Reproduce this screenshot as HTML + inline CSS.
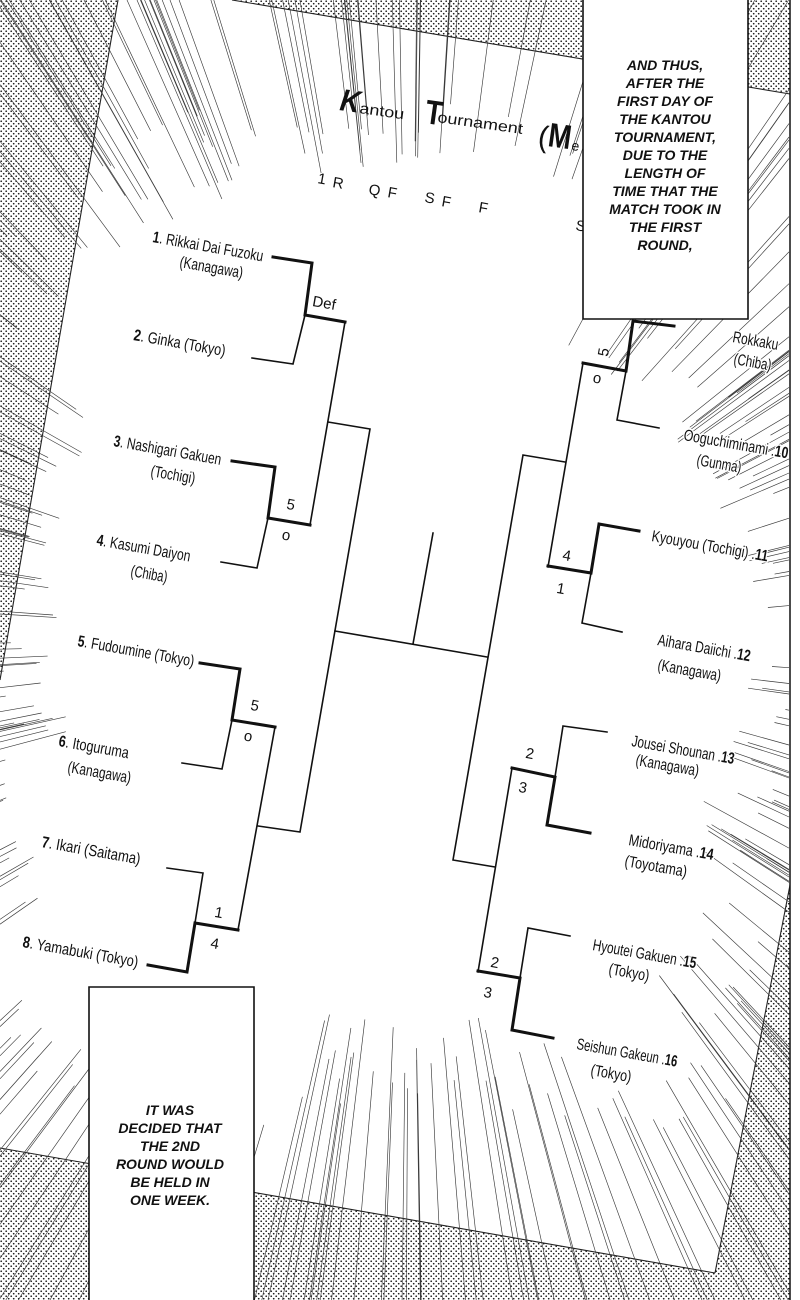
<!DOCTYPE html>
<html><head><meta charset="utf-8">
<style>
html,body{margin:0;padding:0;background:#fff;width:800px;height:1300px;overflow:hidden;}
svg{display:block;}
.lb{font-family:"Liberation Sans Narrow","Liberation Sans",sans-serif;font-size:16px;fill:#111;paint-order:stroke;stroke:#fff;stroke-width:3px;stroke-linejoin:round;}
.sc{font-family:"Liberation Sans",sans-serif;font-size:15px;fill:#111;text-anchor:middle;}
.hd{font-family:"Liberation Sans",sans-serif;font-size:15px;fill:#111;}
.cap{font-family:"Liberation Sans",sans-serif;font-size:14px;font-weight:bold;font-style:italic;fill:#111;text-anchor:middle;}
</style></head>
<body>
<svg width="800" height="1300" viewBox="0 0 800 1300" xmlns="http://www.w3.org/2000/svg" overflow="hidden">
<defs>
<pattern id="dots" width="5" height="5" patternUnits="userSpaceOnUse">
<circle cx="1.2" cy="1.2" r="0.85" fill="#1a1a1a"/><circle cx="3.7" cy="3.7" r="0.85" fill="#1a1a1a"/>
</pattern>
</defs>
<rect width="800" height="1300" fill="#fff"/>
<!-- screentone background -->
<polygon points="0,0 118,0 0,680" fill="url(#dots)"/>
<polygon points="232,0 800,0 800,95" fill="url(#dots)"/>
<polygon points="0,1148 715,1273 790,885 800,885 800,1300 0,1300" fill="url(#dots)"/>
<g stroke="#222" stroke-width="1.1" fill="none">
<line x1="118" y1="0" x2="0" y2="680"/>
<line x1="232" y1="0" x2="790" y2="94"/>
<line x1="0" y1="1148" x2="715" y2="1273"/>
<line x1="790" y1="885" x2="715" y2="1273"/>
</g>
<!-- speed lines -->
<path id="sl" d="" stroke="#3a3a3a" stroke-width="0.65" fill="none"/>

<!-- bracket -->
<g stroke="#111" fill="none" stroke-linejoin="miter" stroke-linecap="square">
<g stroke-width="1.6">
<polyline points="305,315 293,364 252,358"/>
<polyline points="345,322 310,525"/>
<polyline points="268,518 257,568 221,562"/>
<polyline points="328,422 370,429 300,832 258,826"/>
<polyline points="275,727 238,930"/>
<polyline points="232,720 222,769 182,763"/>
<polyline points="167,868 203,873 195,923"/>
<polyline points="335,631 487,657"/>
<polyline points="413,644 433,533"/>
<polyline points="626,371 617,420 659,428"/>
<polyline points="583,363 548,567"/>
<polyline points="565,462 523,455 453,860 495,867"/>
<polyline points="591,573 582,623 622,632"/>
<polyline points="512,768 478,972"/>
<polyline points="607,732 563,726 555,777"/>
<polyline points="570,936 528,928 520,978"/>
</g>
<g stroke-width="3">
<polyline points="273,257 312,263 305,315 345,322"/>
<polyline points="232,461 275,467 268,518 310,525"/>
<polyline points="200,663 240,669 232,720 275,727"/>
<polyline points="148,965 187,972 195,923 238,930"/>
<polyline points="674,326 633,321 626,371 583,363"/>
<polyline points="639,531 599,524 591,573 548,566"/>
<polyline points="512,768 555,777 547,825 590,833"/>
<polyline points="478,971 520,978 512,1030 553,1038"/>
</g>
</g>

<!-- title -->
<g font-family="'Liberation Sans',sans-serif" fill="#111">
<text transform="translate(339,110) rotate(8)" font-size="31" font-weight="bold" font-style="italic" textLength="20" lengthAdjust="spacingAndGlyphs">K</text>
<text transform="translate(359,113) rotate(8)" font-size="15" textLength="45" lengthAdjust="spacingAndGlyphs">antou</text>
<text transform="translate(424,123) rotate(8)" font-size="34" font-weight="bold" textLength="17" lengthAdjust="spacingAndGlyphs">T</text>
<text transform="translate(437,122) rotate(8)" font-size="15" textLength="86" lengthAdjust="spacingAndGlyphs">ournament</text>
<text transform="translate(537,146) rotate(8)" font-size="30">(</text>
<text transform="translate(547,146) rotate(8)" font-size="34" font-weight="bold" textLength="23" lengthAdjust="spacingAndGlyphs">M</text>
<text transform="translate(571,150) rotate(8)" font-size="14">e</text>
</g>
<!-- round header -->
<text class="hd" transform="translate(317,183) rotate(10)">1</text>
<text class="hd" transform="translate(332,187) rotate(10)">R</text>
<text class="hd" transform="translate(368,194) rotate(10)">Q</text>
<text class="hd" transform="translate(387,197) rotate(10)">F</text>
<text class="hd" transform="translate(424,202) rotate(10)">S</text>
<text class="hd" transform="translate(441,206) rotate(10)">F</text>
<text class="hd" transform="translate(478,212) rotate(10)">F</text>
<text class="hd" transform="translate(575,230) rotate(10)">S</text>

<!-- team labels -->
<text class="lb" transform="translate(152,242) rotate(10)" textLength="112" lengthAdjust="spacingAndGlyphs"><tspan font-weight="bold">1</tspan>. Rikkai Dai Fuzoku</text>
<text class="lb" transform="translate(179,267) rotate(10)" textLength="64" lengthAdjust="spacingAndGlyphs">(Kanagawa)</text>
<text class="lb" transform="translate(133,340) rotate(10)" textLength="93" lengthAdjust="spacingAndGlyphs"><tspan font-weight="bold">2</tspan>. Ginka (Tokyo)</text>
<text class="lb" transform="translate(113,446) rotate(10)" textLength="109" lengthAdjust="spacingAndGlyphs"><tspan font-weight="bold">3</tspan>. Nashigari Gakuen</text>
<text class="lb" transform="translate(150,476) rotate(10)" textLength="45" lengthAdjust="spacingAndGlyphs">(Tochigi)</text>
<text class="lb" transform="translate(96,545) rotate(10)" textLength="95" lengthAdjust="spacingAndGlyphs"><tspan font-weight="bold">4</tspan>. Kasumi Daiyon</text>
<text class="lb" transform="translate(130,576) rotate(10)" textLength="37" lengthAdjust="spacingAndGlyphs">(Chiba)</text>
<text class="lb" transform="translate(77,646) rotate(10)" textLength="118" lengthAdjust="spacingAndGlyphs"><tspan font-weight="bold">5</tspan>. Fudoumine (Tokyo)</text>
<text class="lb" transform="translate(58,746) rotate(10)" textLength="71" lengthAdjust="spacingAndGlyphs"><tspan font-weight="bold">6</tspan>. Itoguruma</text>
<text class="lb" transform="translate(67,772) rotate(10)" textLength="64" lengthAdjust="spacingAndGlyphs">(Kanagawa)</text>
<text class="lb" transform="translate(41,847) rotate(10)" textLength="100" lengthAdjust="spacingAndGlyphs"><tspan font-weight="bold">7</tspan>. Ikari (Saitama)</text>
<text class="lb" transform="translate(22,947) rotate(10)" textLength="117" lengthAdjust="spacingAndGlyphs"><tspan font-weight="bold">8</tspan>. Yamabuki (Tokyo)</text>

<text class="lb" transform="translate(732,342) rotate(10)" textLength="46" lengthAdjust="spacingAndGlyphs">Rokkaku</text>
<text class="lb" transform="translate(733,364) rotate(10)" textLength="38" lengthAdjust="spacingAndGlyphs">(Chiba)</text>
<text class="lb" transform="translate(683,440) rotate(10)" textLength="106" lengthAdjust="spacingAndGlyphs">Ooguchiminami .<tspan font-weight="bold">10</tspan></text>
<text class="lb" transform="translate(696,465) rotate(10)" textLength="45" lengthAdjust="spacingAndGlyphs">(Gunma)</text>
<text class="lb" transform="translate(651,541) rotate(10)" textLength="118" lengthAdjust="spacingAndGlyphs">Kyouyou (Tochigi) .<tspan font-weight="bold">11</tspan></text>
<text class="lb" transform="translate(657,645) rotate(10)" textLength="94" lengthAdjust="spacingAndGlyphs">Aihara Daiichi .<tspan font-weight="bold">12</tspan></text>
<text class="lb" transform="translate(657,670) rotate(10)" textLength="64" lengthAdjust="spacingAndGlyphs">(Kanagawa)</text>
<text class="lb" transform="translate(631,746) rotate(10)" textLength="104" lengthAdjust="spacingAndGlyphs">Jousei Shounan .<tspan font-weight="bold">13</tspan></text>
<text class="lb" transform="translate(635,765) rotate(10)" textLength="64" lengthAdjust="spacingAndGlyphs">(Kanagawa)</text>
<text class="lb" transform="translate(628,845) rotate(10)" textLength="86" lengthAdjust="spacingAndGlyphs">Midoriyama .<tspan font-weight="bold">14</tspan></text>
<text class="lb" transform="translate(624,866) rotate(10)" textLength="63" lengthAdjust="spacingAndGlyphs">(Toyotama)</text>
<text class="lb" transform="translate(592,950) rotate(10)" textLength="105" lengthAdjust="spacingAndGlyphs">Hyoutei Gakuen .<tspan font-weight="bold">15</tspan></text>
<text class="lb" transform="translate(608,974) rotate(10)" textLength="41" lengthAdjust="spacingAndGlyphs">(Tokyo)</text>
<text class="lb" transform="translate(576,1049) rotate(10)" textLength="102" lengthAdjust="spacingAndGlyphs">Seishun Gakeun .<tspan font-weight="bold">16</tspan></text>
<text class="lb" transform="translate(590,1075) rotate(10)" textLength="41" lengthAdjust="spacingAndGlyphs">(Tokyo)</text>

<!-- scores -->
<text class="sc" transform="translate(324,304) rotate(10)" y="4" font-size="12">Def</text>
<text class="sc" transform="translate(291,504) rotate(10)" y="5.5">5</text>
<text class="sc" transform="translate(286,536) rotate(10)" y="4" font-size="13">o</text>
<text class="sc" transform="translate(255,705) rotate(10)" y="5.5">5</text>
<text class="sc" transform="translate(248,737) rotate(10)" y="4" font-size="13">o</text>
<text class="sc" transform="translate(219,912) rotate(10)" y="5.5">1</text>
<text class="sc" transform="translate(215,943) rotate(10)" y="5.5">4</text>
<text class="sc" transform="translate(603,352) rotate(-80)" y="5.5">5</text>
<text class="sc" transform="translate(597,379) rotate(10)" y="4" font-size="13">o</text>
<text class="sc" transform="translate(567,555) rotate(10)" y="5.5">4</text>
<text class="sc" transform="translate(561,588) rotate(10)" y="5.5">1</text>
<text class="sc" transform="translate(530,753) rotate(10)" y="5.5">2</text>
<text class="sc" transform="translate(523,787) rotate(10)" y="5.5">3</text>
<text class="sc" transform="translate(495,962) rotate(10)" y="5.5">2</text>
<text class="sc" transform="translate(488,992) rotate(10)" y="5.5">3</text>

<!-- caption boxes -->
<rect x="583" y="0" width="165" height="319" fill="#fff"/>
<path d="M583,0 L583,319 L748,319 L748,0" fill="none" stroke="#111" stroke-width="1.6"/>
<g class="cap">
<text x="665" y="70">AND THUS,</text>
<text x="665" y="88">AFTER THE</text>
<text x="665" y="106">FIRST DAY OF</text>
<text x="665" y="124">THE KANTOU</text>
<text x="665" y="142">TOURNAMENT,</text>
<text x="665" y="160">DUE TO THE</text>
<text x="665" y="178">LENGTH OF</text>
<text x="665" y="196">TIME THAT THE</text>
<text x="665" y="214">MATCH TOOK IN</text>
<text x="665" y="232">THE FIRST</text>
<text x="665" y="250">ROUND,</text>
</g>
<rect x="89" y="987" width="165" height="313" fill="#fff"/>
<path d="M89,1300 L89,987 L254,987 L254,1300" fill="none" stroke="#111" stroke-width="1.6"/>
<g class="cap">
<text x="170" y="1115">IT WAS</text>
<text x="170" y="1133">DECIDED THAT</text>
<text x="170" y="1151">THE 2ND</text>
<text x="170" y="1169">ROUND WOULD</text>
<text x="170" y="1187">BE HELD IN</text>
<text x="170" y="1205">ONE WEEK.</text>
</g>

<!-- page frame right -->
<rect x="790.5" y="0" width="9.5" height="1300" fill="#fff"/>
<line x1="790" y1="0" x2="790" y2="1300" stroke="#111" stroke-width="1.5"/>
</svg>
<script>
(function(){
var s=12345;function r(){s=(s*16807)%2147483647;return s/2147483647;}
var cx=410,cy=640,d='';
var R=[
[-62,-35,26,330,420],
[-35,40,70,335,420],
[40,55,18,400,500],
[55,70,13,490,560],
[70,78,7,420,520],
[78,105,28,380,470],
[105,130,20,480,560],
[130,145,13,520,580],
[145,165,14,420,480],
[165,200,32,350,410],
[200,215,11,370,420],
[215,250,50,470,580],
[250,290,36,475,540],
[290,298,9,500,560]
];
function edge(c,sn){
var t=1e9;
if(c>1e-6)t=Math.min(t,(789-cx)/c);
if(c<-1e-6)t=Math.min(t,(0-cx)/c);
if(sn>1e-6)t=Math.min(t,(1300-cy)/sn);
if(sn<-1e-6)t=Math.min(t,(0-cy)/sn);
return t;
}
R.forEach(function(g){
for(var i=0;i<g[2];i++){
var a=(g[0]+(g[1]-g[0])*r())*Math.PI/180;
var r1=g[3]+(g[4]-g[3])*r();
var c=Math.cos(a),sn=Math.sin(a);
var r2=edge(c,sn);
if(r2<=r1+2)continue;
d+='M'+(cx+c*r1).toFixed(1)+' '+(cy+sn*r1).toFixed(1)+'L'+(cx+c*r2).toFixed(1)+' '+(cy+sn*r2).toFixed(1);
}});
document.getElementById('sl').setAttribute('d',d);
})();
</script>
</body></html>
